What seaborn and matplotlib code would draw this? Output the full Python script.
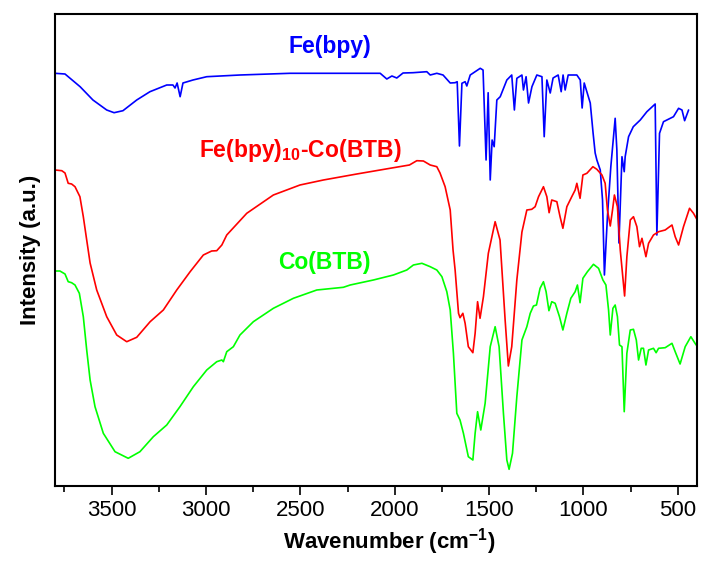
import matplotlib
matplotlib.use("Agg")
import matplotlib.pyplot as plt
from matplotlib.ticker import MultipleLocator, NullLocator
import numpy as np
import pandas as pd
import seaborn as sns

# ---------------- data (wavenumber, intensity a.u.) ----------------
fe_wn = [3800, 3747, 3667, 3599, 3526, 3487, 3440, 3367, 3297, 3208, 3175, 3164, 3153, 3137,
         3122, 3069, 2996, 2820, 2555, 2077, 2042, 2015, 1989, 1956, 1903, 1830, 1812, 1777,
         1744, 1706, 1680, 1669, 1657, 1644, 1627, 1618, 1600, 1547, 1532, 1516, 1505, 1494,
         1484, 1473, 1459, 1441, 1406, 1380, 1366, 1353, 1326, 1318, 1304, 1291, 1273, 1247,
         1220, 1208, 1194, 1176, 1161, 1134, 1118, 1108, 1097, 1081, 1035, 1017, 1007, 996,
         964, 949, 938, 929, 911, 899, 889, 873, 855, 832, 823, 812, 796, 784, 779, 761, 736,
         699, 664, 620, 611, 597, 576, 540, 523, 496, 478, 464, 443]
fe_int = [412.7, 412, 399.3, 386, 376, 373.3, 375.3, 386, 394.3, 401, 401, 398, 403, 389.3,
          403, 406, 409.3, 411, 412.7, 412.7, 407, 410, 408, 413, 413.3, 414.3, 411, 412.7,
          411, 403, 403.3, 404.3, 340, 402.7, 404.3, 400, 411, 417.7, 416, 326, 393.3, 306,
          346, 339.3, 386, 389.3, 406, 411, 376, 407.7, 411, 396, 409.3, 383, 399.3, 411,
          409.3, 349.3, 406, 393, 408, 411, 394.3, 411, 396, 411, 411, 406, 378, 403,
          383, 353, 333, 326, 316, 286, 211, 269.3, 319.3, 367.7, 336, 243, 329.3, 314.3,
          329.3, 349.3, 359.3, 366, 374.3, 382, 251, 352.7, 364.3, 367.7, 369.3, 377.7, 376,
          365.3, 376]

hy_wn = [3800, 3764, 3747, 3730, 3712, 3694, 3668, 3650, 3632, 3614, 3579, 3526, 3473, 3420,
         3367, 3296, 3226, 3155, 3084, 3014, 2970, 2943, 2916, 2890, 2784, 2643, 2502, 2378,
         2201, 2025, 1922, 1883, 1848, 1812, 1777, 1760, 1733, 1706, 1691, 1680, 1662, 1654,
         1639, 1627, 1610, 1586, 1574, 1561, 1548, 1530, 1504, 1468, 1442, 1415, 1398, 1380,
         1353, 1326, 1300, 1274, 1256, 1238, 1212, 1194, 1182, 1168, 1141, 1124, 1109, 1088,
         1062, 1044, 1035, 1018, 1003, 982, 950, 929, 902, 885, 873, 858, 846, 836, 820, 805,
         782, 770, 752, 735, 717, 703, 690, 669, 655, 629, 602, 567, 531, 514, 496, 470, 438,
         417, 400]
hy_int = [316, 315.3, 313, 302.7, 302, 299.3, 289.3, 269.3, 246, 223, 196, 169.3, 151, 144.3,
          148.7, 164.3, 176, 196, 214.3, 231, 235, 235.3, 241, 251, 272.7, 291, 301, 306,
          312, 317.7, 321, 325.3, 325, 321, 319.3, 313, 299.3, 276, 236, 216, 172.7, 168.3,
          172.7, 162.7, 139.3, 133.3, 152.7, 184.3, 167.7, 189.3, 232.7, 264.3, 246, 166, 120,
          139.3, 206, 254, 276, 276.7, 279.3, 289.3, 299.3, 289.3, 273.3, 286, 284.3, 269.3,
          257.7, 279.3, 289.3, 296, 302.7, 287.7, 311, 312.7, 319.3, 316.7, 311, 302.7, 276,
          260, 276, 291, 279.3, 236, 190, 229.3, 266, 269.3, 259.3, 239.3, 247.7, 229.3,
          242.7, 251, 254.3, 256, 261, 249.3, 241, 259.3, 277.7, 272.7, 267]

co_wn = [3800, 3774, 3747, 3730, 3712, 3694, 3671, 3650, 3632, 3614, 3588, 3544, 3482, 3412,
         3350, 3279, 3208, 3138, 3067, 2996, 2943, 2916, 2908, 2890, 2855, 2820, 2749, 2643,
         2537, 2413, 2272, 2236, 2113, 2007, 1936, 1901, 1856, 1812, 1777, 1750, 1724, 1706,
         1689, 1671, 1654, 1636, 1610, 1586, 1574, 1561, 1544, 1521, 1494, 1468, 1447, 1424,
         1406, 1394, 1376, 1353, 1326, 1300, 1282, 1265, 1249, 1230, 1212, 1198, 1183, 1168,
         1150, 1127, 1109, 1088, 1067, 1044, 1032, 1018, 1003, 979, 947, 920, 897, 881, 867,
         858, 844, 832, 820, 809, 796, 784, 770, 752, 735, 720, 708, 694, 682, 669, 655, 629,
         615, 602, 567, 531, 514, 488, 461, 431, 403]
co_int = [215, 215, 212, 204.3, 203.3, 201, 192.7, 169.3, 136, 106, 79.3, 52.7, 34.3, 27.7,
          34.3, 49.3, 61, 79.3, 99.3, 116, 124.3, 126, 124.3, 134.3, 139.3, 151, 164.3, 177.7,
          187.7, 196, 198.7, 201, 206, 211, 216, 221, 222.7, 219.3, 216, 209.3, 194.3, 176,
          132.7, 72.7, 66, 52.7, 29.3, 26, 52.7, 74.3, 56, 82.7, 139.3, 159.3, 139.3, 72.7,
          26, 16.7, 32.7, 89.3, 146, 159.3, 172.7, 180, 181, 197.7, 204.3, 194.3, 175.3, 184.3,
          182.7, 169.3, 156, 172.7, 187.7, 194.3, 201, 183.3, 207.7, 214.3, 221.7, 217.7, 206,
          201, 176, 151, 177.7, 181, 169.3, 141, 139.3, 74.3, 132.7, 156, 156.7, 146, 126,
          137.7, 137.7, 121, 136, 137.7, 133.3, 137.7, 138.3, 142.7, 134.3, 122, 139.3, 149.3,
          141]

series_names = ["Fe(bpy)", "Fe(bpy)10-Co(BTB)", "Co(BTB)"]
series_colors = ["#0000ff", "#ff0000", "#00ff00"]
label_texts = [r"Fe(bpy)", r"Fe(bpy)$_{\mathbf{10}}$-Co(BTB)", r"Co(BTB)"]
label_wn = [2342, 2501, 2374]
label_int = [439, 336, 224]

x_ticks = [3500, 3000, 2500, 2000, 1500, 1000, 500]

# ---------------- build table ----------------
frames = []
for name, wn, inten in zip(series_names, [fe_wn, hy_wn, co_wn], [fe_int, hy_int, co_int]):
    frames.append(pd.DataFrame({"wn": wn, "I": inten, "sample": name,
                                "order": np.arange(len(wn))}))
df = pd.concat(frames, ignore_index=True)

# ---------------- style ----------------
sns.set_theme(style="white")
plt.rcParams["font.family"] = ["Liberation Sans", "DejaVu Sans"]
plt.rcParams["mathtext.fontset"] = "custom"
plt.rcParams["mathtext.rm"] = "Liberation Sans"
plt.rcParams["mathtext.bf"] = "Liberation Sans:bold"
plt.rcParams["mathtext.it"] = "Liberation Sans:italic"

fig = plt.figure(figsize=(7.03, 5.61), dpi=100)
ax = fig.add_axes([55 / 703, (561 - 485.7) / 561, (696.7 - 55) / 703, (485.7 - 14.3) / 561])

sns.lineplot(data=df, x="wn", y="I", hue="sample", hue_order=series_names,
             palette=dict(zip(series_names, series_colors)), sort=False,
             estimator=None, units="sample", linewidth=1.2, legend=False, ax=ax)

ax.set_xlim(3800, 400)
ax.set_ylim(0.3, 471.7)

ax.set_xticks(x_ticks)
ax.xaxis.set_minor_locator(MultipleLocator(250))
ax.yaxis.set_major_locator(NullLocator())
ax.yaxis.set_minor_locator(NullLocator())
ax.tick_params(axis="x", which="major", direction="out", length=6.5, width=1.2,
               color="black", labelsize=16, pad=4, bottom=True, top=False)
ax.tick_params(axis="x", which="minor", direction="out", length=4.5, width=1.2,
               color="black", bottom=True, top=False)
for lab in ax.get_xticklabels():
    lab.set_color("black")

for sp in ax.spines.values():
    sp.set_visible(True)
    sp.set_color("black")
    sp.set_linewidth(1.5)

ax.set_xlabel("Wavenumber (cm$^{\\mathbf{-1}}$)", fontsize=16, fontweight="bold",
              color="black")
ax.xaxis.set_label_coords(0.52, -0.085)
ax.set_ylabel("Intensity (a.u.)", fontsize=16, fontweight="bold", color="black",
              labelpad=10)

for txt, xw, yi, col in zip(label_texts, label_wn, label_int, series_colors):
    ax.text(xw, yi, txt, color=col, fontsize=16.5, fontweight="bold",
            ha="center", va="center")

fig.savefig("out.png", dpi=100)
